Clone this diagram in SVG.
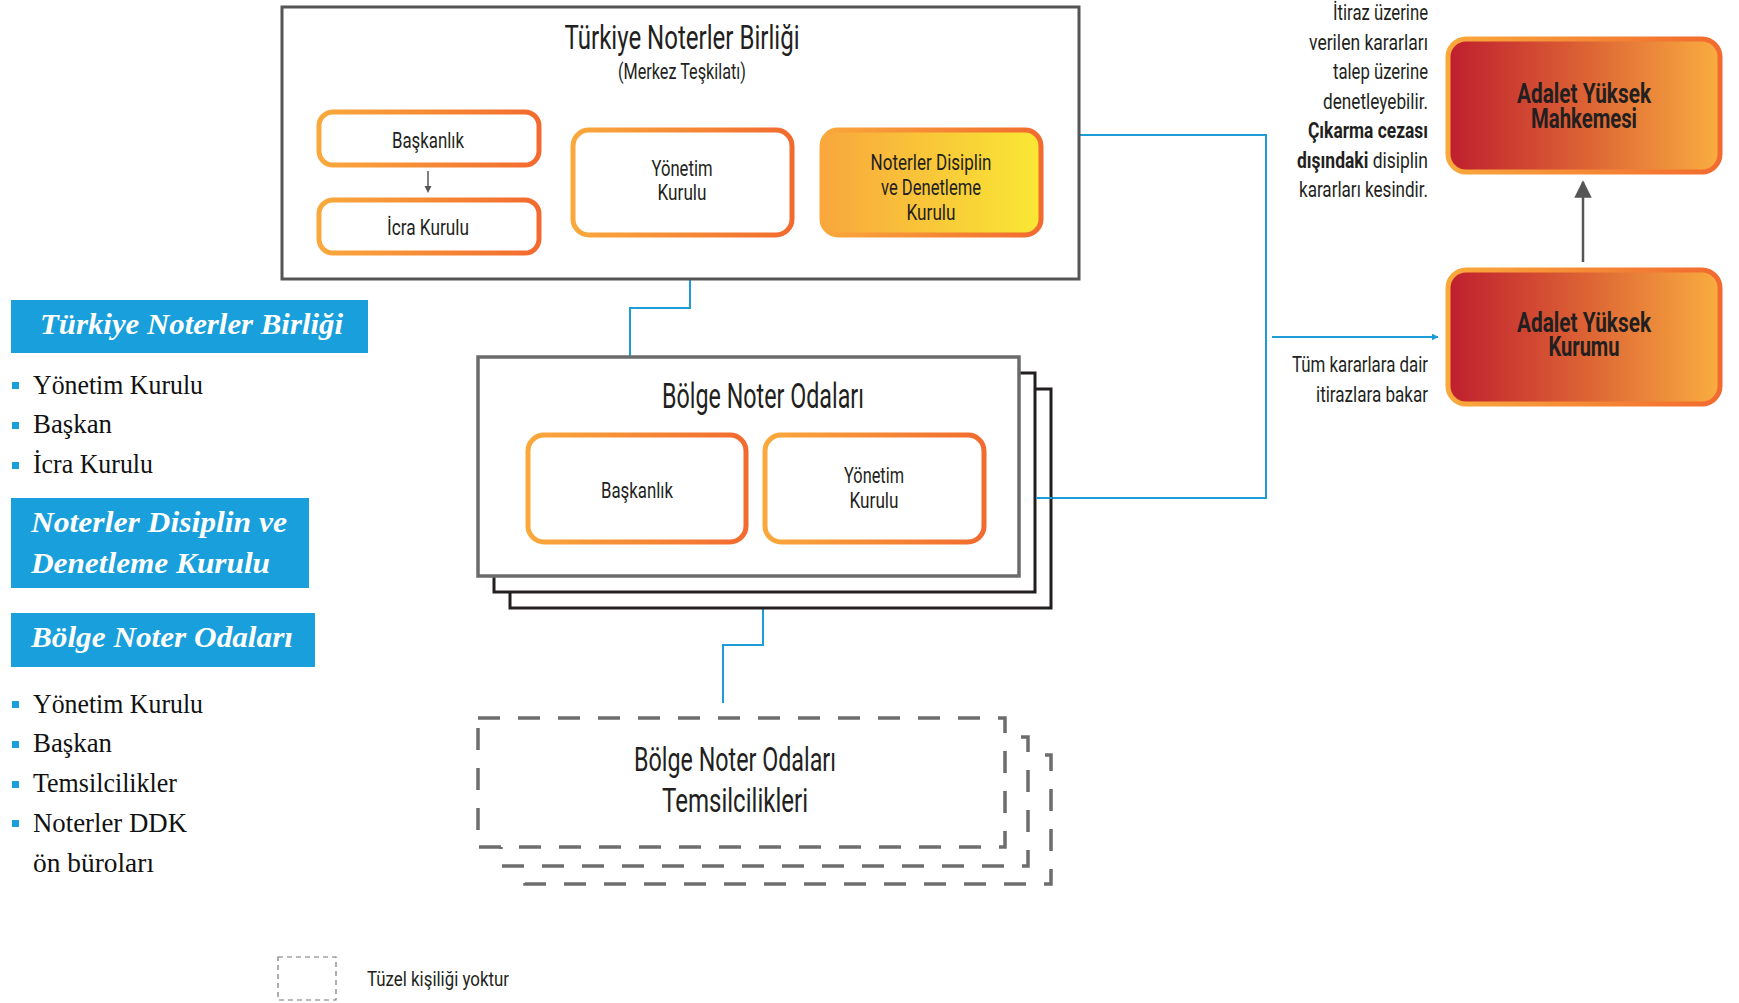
<svg xmlns="http://www.w3.org/2000/svg" width="1739" height="1003" viewBox="0 0 1739 1003">
<defs>
<linearGradient id="gOr" x1="0" y1="0" x2="1" y2="0"><stop offset="0" stop-color="#f9a93c"/><stop offset="1" stop-color="#f26a2f"/></linearGradient>
<linearGradient id="gYel" x1="0" y1="0" x2="1" y2="0"><stop offset="0" stop-color="#f8a73d"/><stop offset="1" stop-color="#f9e834"/></linearGradient>
<linearGradient id="gRed" x1="0" y1="0" x2="1" y2="0"><stop offset="0" stop-color="#bf1e2e"/><stop offset="0.5" stop-color="#dc6234"/><stop offset="1" stop-color="#f9ad40"/></linearGradient>
<marker id="mBlue" viewBox="0 0 10 10" refX="9" refY="5" markerWidth="7" markerHeight="7" markerUnits="userSpaceOnUse" orient="auto"><path d="M0,0 L10,5 L0,10 z" fill="#1d9cd8"/></marker>
<marker id="mGray" viewBox="0 0 10 10" refX="9" refY="5" markerWidth="7" markerHeight="7" orient="auto"><path d="M0,0 L10,5 L0,10 z" fill="#555"/></marker>
<style>
.t{font-family:Roboto,"Liberation Sans",sans-serif;fill:#231f20;text-anchor:middle}
.r{font-family:Roboto,"Liberation Sans",sans-serif;fill:#231f20;text-anchor:end;font-size:22px}
.ob{fill:#fff;stroke:url(#gOr);stroke-width:5}
.blue{fill:none;stroke:#1d9cd8;stroke-width:2}
.hdr{fill:#189fdc}
.ht{font-family:"Liberation Serif",serif;font-style:italic;font-weight:bold;fill:#fff;font-size:29px}
.li{font-family:"Liberation Serif",serif;fill:#111;font-size:28px}
.bul{fill:#189fdc}
.dash{fill:#fff;stroke:#6d6d6d;stroke-width:3.5;stroke-dasharray:22 18}
</style>
</defs>

<g id="connectors">
<path class="blue" d="M690,236 V308 H630 V432"/>
<path class="blue" d="M1079,135 H1266 V498 H1036"/>
<path class="blue" d="M1272,337 H1438" marker-end="url(#mBlue)"/>
<path class="blue" d="M763,592 V645 H723 V703"/>
<path d="M1583,262 V182" stroke="#555" stroke-width="2.5" fill="none" marker-end="url(#mGray)"/>
</g>

<g id="tnb">
<rect x="282" y="7" width="797" height="272" fill="#fff" stroke="#555" stroke-width="3"/>
<text class="t" x="682" y="49" font-size="33" textLength="235" lengthAdjust="spacingAndGlyphs">Türkiye Noterler Birliği</text>
<text class="t" x="682" y="79" font-size="22" textLength="128" lengthAdjust="spacingAndGlyphs">(Merkez Teşkilatı)</text>
</g>
<g id="tnb-baskanlik">
<rect class="ob" x="319" y="112" width="220" height="53" rx="14"/>
<text class="t" x="428" y="148" font-size="22" textLength="72" lengthAdjust="spacingAndGlyphs">Başkanlık</text>
</g>
<g id="tnb-arrow">
<path d="M428,171 V190" stroke="#555" stroke-width="1.5" fill="none"/>
<path d="M424.5,186 L428,193 L431.5,186 z" fill="#555"/>
</g>
<g id="tnb-icra">
<rect class="ob" x="319" y="200" width="220" height="53" rx="14"/>
<text class="t" x="428" y="235" font-size="22" textLength="82" lengthAdjust="spacingAndGlyphs">İcra Kurulu</text>
</g>
<g id="tnb-yonetim">
<rect class="ob" x="573" y="130" width="219" height="105" rx="16"/>
<text class="t" x="682" y="176" font-size="22" textLength="61" lengthAdjust="spacingAndGlyphs">Yönetim</text>
<text class="t" x="682" y="200" font-size="22" textLength="49" lengthAdjust="spacingAndGlyphs">Kurulu</text>
</g>
<g id="tnb-ddk">
<rect x="822" y="130" width="219" height="105" rx="16" fill="url(#gYel)" stroke="url(#gOr)" stroke-width="5"/>
<text class="t" x="931" y="170" font-size="22" textLength="121" lengthAdjust="spacingAndGlyphs">Noterler Disiplin</text>
<text class="t" x="931" y="195" font-size="22" textLength="100" lengthAdjust="spacingAndGlyphs">ve Denetleme</text>
<text class="t" x="931" y="220" font-size="22" textLength="49" lengthAdjust="spacingAndGlyphs">Kurulu</text>
</g>

<g id="bno">
<rect x="510" y="389" width="541" height="219" fill="#fff" stroke="#231f20" stroke-width="3"/>
<rect x="494" y="373" width="541" height="219" fill="#fff" stroke="#231f20" stroke-width="3"/>
<rect x="478" y="357" width="541" height="219" fill="#fff" stroke="#6b6b6b" stroke-width="3.5"/>
<text class="t" x="763" y="408" font-size="35" textLength="202" lengthAdjust="spacingAndGlyphs">Bölge Noter Odaları</text>
</g>
<g id="bno-baskanlik">
<rect class="ob" x="528" y="435" width="218" height="107" rx="16"/>
<text class="t" x="637" y="498" font-size="22" textLength="72" lengthAdjust="spacingAndGlyphs">Başkanlık</text>
</g>
<g id="bno-yonetim">
<rect class="ob" x="765" y="435" width="219" height="107" rx="16"/>
<text class="t" x="874" y="483" font-size="22" textLength="60" lengthAdjust="spacingAndGlyphs">Yönetim</text>
<text class="t" x="874" y="508" font-size="22" textLength="49" lengthAdjust="spacingAndGlyphs">Kurulu</text>
</g>
<path d="M1036,498 H1052" stroke="#1d9cd8" stroke-width="2"/>

<g id="temsil">
<rect class="dash" x="525" y="755" width="526" height="129"/>
<rect class="dash" x="501" y="737" width="527" height="129"/>
<rect class="dash" x="478" y="718" width="527" height="129"/>
<text class="t" x="735" y="771" font-size="34" textLength="202" lengthAdjust="spacingAndGlyphs">Bölge Noter Odaları</text>
<text class="t" x="735" y="812" font-size="34" textLength="146" lengthAdjust="spacingAndGlyphs">Temsilcilikleri</text>
</g>

<g id="aym">
<rect x="1448" y="39" width="272" height="133" rx="18" fill="url(#gRed)" stroke="url(#gOr)" stroke-width="5"/>
<text class="t" x="1584" y="103" font-size="28" font-weight="bold" textLength="134" lengthAdjust="spacingAndGlyphs">Adalet Yüksek</text>
<text class="t" x="1584" y="128" font-size="28" font-weight="bold" textLength="106" lengthAdjust="spacingAndGlyphs">Mahkemesi</text>
</g>
<g id="ayk">
<rect x="1448" y="270" width="272" height="134" rx="18" fill="url(#gRed)" stroke="url(#gOr)" stroke-width="5"/>
<text class="t" x="1584" y="332" font-size="28" font-weight="bold" textLength="134" lengthAdjust="spacingAndGlyphs">Adalet Yüksek</text>
<text class="t" x="1584" y="356" font-size="28" font-weight="bold" textLength="71" lengthAdjust="spacingAndGlyphs">Kurumu</text>
</g>

<g id="notes">
<text class="r" x="1428" y="20" textLength="95" lengthAdjust="spacingAndGlyphs">İtiraz üzerine</text>
<text class="r" x="1428" y="50" textLength="119" lengthAdjust="spacingAndGlyphs">verilen kararları</text>
<text class="r" x="1428" y="79" textLength="95" lengthAdjust="spacingAndGlyphs">talep üzerine</text>
<text class="r" x="1428" y="109" textLength="105" lengthAdjust="spacingAndGlyphs">denetleyebilir.</text>
<text class="r" x="1428" y="138" font-weight="bold" textLength="120" lengthAdjust="spacingAndGlyphs">Çıkarma cezası</text>
<text class="r" x="1428" y="168" textLength="131" lengthAdjust="spacingAndGlyphs"><tspan font-weight="bold">dışındaki</tspan> disiplin</text>
<text class="r" x="1428" y="197" textLength="129" lengthAdjust="spacingAndGlyphs">kararları kesindir.</text>
<text class="r" x="1428" y="372" textLength="136" lengthAdjust="spacingAndGlyphs">Tüm kararlara dair</text>
<text class="r" x="1428" y="402" textLength="112" lengthAdjust="spacingAndGlyphs">itirazlara bakar</text>
</g>

<g id="legend-left">
<rect class="hdr" x="11" y="300" width="357" height="53"/>
<text class="ht" x="40" y="334" textLength="303" lengthAdjust="spacingAndGlyphs">Türkiye Noterler Birliği</text>
<rect class="bul" x="12" y="382" width="7" height="7"/>
<text class="li" x="33" y="394" textLength="170" lengthAdjust="spacingAndGlyphs">Yönetim Kurulu</text>
<rect class="bul" x="12" y="422" width="7" height="7"/>
<text class="li" x="33" y="433" textLength="79" lengthAdjust="spacingAndGlyphs">Başkan</text>
<rect class="bul" x="12" y="462" width="7" height="7"/>
<text class="li" x="33" y="473" textLength="120" lengthAdjust="spacingAndGlyphs">İcra Kurulu</text>

<rect class="hdr" x="11" y="498" width="298" height="90"/>
<text class="ht" x="31" y="532" textLength="256" lengthAdjust="spacingAndGlyphs">Noterler Disiplin ve</text>
<text class="ht" x="31" y="573" textLength="239" lengthAdjust="spacingAndGlyphs">Denetleme Kurulu</text>

<rect class="hdr" x="11" y="613" width="304" height="54"/>
<text class="ht" x="31" y="647" textLength="262" lengthAdjust="spacingAndGlyphs">Bölge Noter Odaları</text>
<rect class="bul" x="12" y="701" width="7" height="7"/>
<text class="li" x="33" y="713" textLength="170" lengthAdjust="spacingAndGlyphs">Yönetim Kurulu</text>
<rect class="bul" x="12" y="741" width="7" height="7"/>
<text class="li" x="33" y="752" textLength="79" lengthAdjust="spacingAndGlyphs">Başkan</text>
<rect class="bul" x="12" y="781" width="7" height="7"/>
<text class="li" x="33" y="792" textLength="144" lengthAdjust="spacingAndGlyphs">Temsilcilikler</text>
<rect class="bul" x="12" y="820" width="7" height="7"/>
<text class="li" x="33" y="832" textLength="154" lengthAdjust="spacingAndGlyphs">Noterler DDK</text>
<text class="li" x="33" y="872" textLength="121" lengthAdjust="spacingAndGlyphs">ön büroları</text>
</g>

<g id="legend-key">
<rect x="278" y="957" width="58" height="43" fill="none" stroke="#777" stroke-width="1.2" stroke-dasharray="5 4"/>
<text x="367" y="986" font-family="Roboto,'Liberation Sans',sans-serif" font-size="21" fill="#231f20" textLength="142" lengthAdjust="spacingAndGlyphs">Tüzel kişiliği yoktur</text>
</g>
</svg>
